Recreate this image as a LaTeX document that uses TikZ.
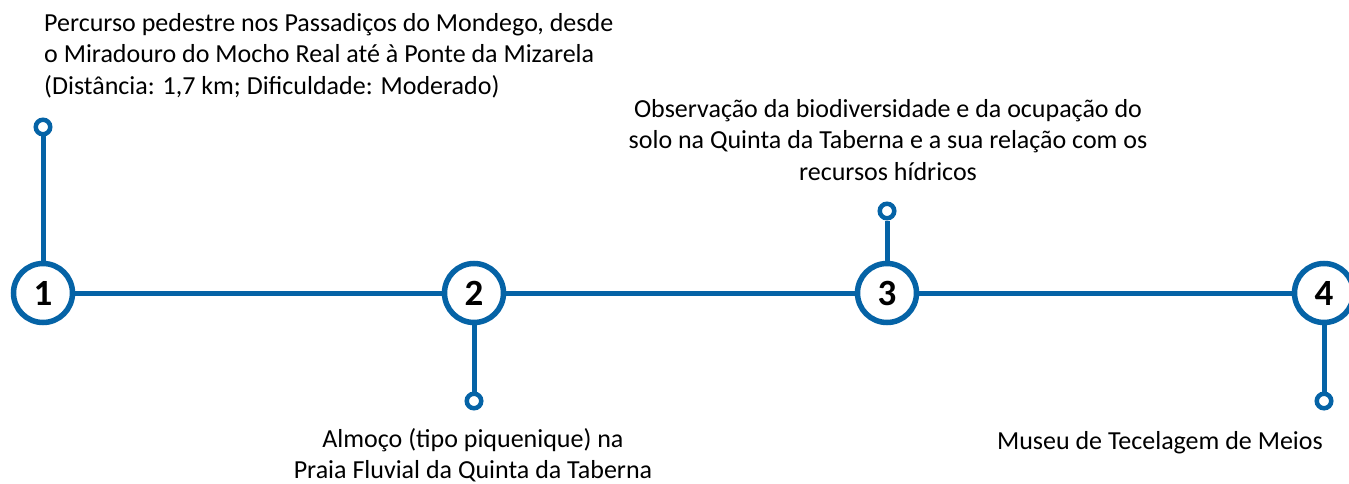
\documentclass[tikz,border=0pt]{standalone}
\usepackage{fontspec}
\setmainfont{Carlito}
\usepackage{xcolor}
\usetikzlibrary{positioning}
\definecolor{routeblue}{HTML}{0563A6}

\begin{document}
\begin{tikzpicture}[
  x=1pt, y=-1pt,
  stopnode/.style={circle, draw=routeblue, line width=5.5pt, fill=white, minimum size=59pt, inner sep=0pt, font=\fontsize{37}{37}\selectfont\bfseries},
  pinnode/.style={circle, draw=routeblue, line width=4.5pt, fill=white, minimum size=14.5pt, inner sep=0pt},
  route/.style={draw=routeblue, line width=5pt},
  stem/.style={draw=routeblue, line width=5pt},
  txt/.style={font=\fontsize{26}{31.5}\selectfont, inner sep=0pt}
]
\useasboundingbox (0,0) rectangle (1349,484);

% paragens
\coordinate (c1) at (43,293);
\coordinate (c2) at (474,293);
\coordinate (c3) at (887,293);
\coordinate (c4) at (1324,293);

% pinos
\node[pinnode] (p1) at (43,127) {};
\node[pinnode] (p2) at (474,401) {};
\node[pinnode] (p3) at (887,211) {};
\node[pinnode] (p4) at (1324,401) {};

\draw[route] (c1) -- (c4);
\draw[stem] (c1) -- (p1);
\draw[stem] (c2) -- (p2);
\draw[stem] (c3) -- (p3);
\draw[stem] (c4) -- (p4);

\node[stopnode] (s1) at (c1) {1};
\node[stopnode] (s2) at (c2) {2};
\node[stopnode] (s3) at (c3) {3};
\node[stopnode] (s4) at (c4) {4};

% textos
\node[txt, align=left, anchor=north west] (t1) at (44,13)
  {Percurso pedestre nos Passadiços do Mondego, desde\\o Miradouro do Mocho Real até à Ponte da Mizarela\\(Distância: 1,7 km; Dificuldade: Moderado)};
\node[txt, align=center, anchor=north] (t3) at (888,99)
  {Observação da biodiversidade e da ocupação do\\solo na Quinta da Taberna e a sua relação com os\\recursos hídricos};
\node[txt, align=center, anchor=north] (t2) at (473,428)
  {Almoço (tipo piquenique) na\\Praia Fluvial da Quinta da Taberna};
\node[txt, anchor=north east] (t4) at (1323,431) {Museu de Tecelagem de Meios};

\end{tikzpicture}
\end{document}
